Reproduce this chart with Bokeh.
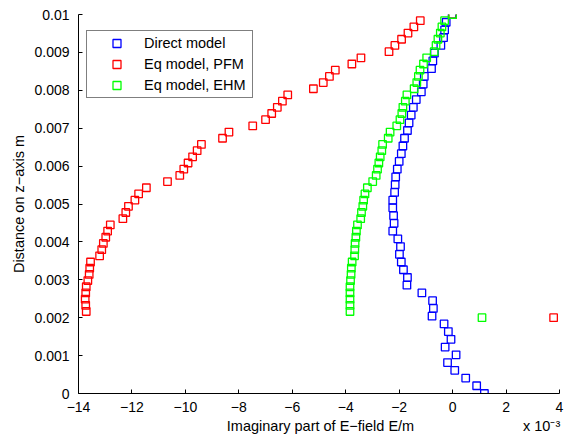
import numpy as np
from bokeh.plotting import figure
from bokeh.models import FixedTicker, CustomJSTickFormatter
from bokeh.embed import file_html
from bokeh.resources import INLINE

# ---- data ----
# x values are in units of 1e-3 E/m (axis shows "x 10^-3")
y_direct = list(np.linspace(0.0, 0.01, 50))
x_direct = [1.19, 0.90, 0.49, 0.08, -0.19, 0.13, -0.28, -0.06, -0.16, -0.32,
            -0.77, -0.72, -0.75, -1.15, -1.71, -1.69, -1.84, -1.92, -1.99, -1.95,
            -2.05, -2.24, -2.19, -2.21, -2.24, -2.24, -2.17, -2.15, -2.13, -2.07,
            -2.00, -1.92, -1.86, -1.80, -1.69, -1.63, -1.55, -1.47, -1.36, -1.17,
            -1.10, -1.06, -0.79, -0.74, -0.68, -0.44, -0.34, -0.30, -0.24, -0.02]

y_eq = list(np.linspace(0.002, 0.01, 50))
x_pfm = [3.78, -13.71, -13.73, -13.75, -13.73, -13.71, -13.65, -13.60, -13.58, -13.55,
         -13.21, -13.13, -13.07, -12.98, -12.91, -12.81, -12.34, -12.23, -12.13, -11.89,
         -11.75, -11.46, -10.67, -10.21, -10.06, -9.90, -9.73, -9.56, -9.40, -8.61,
         -8.37, -7.48, -7.00, -6.77, -6.56, -6.37, -6.17, -5.21, -4.84, -4.61,
         -4.39, -3.77, -3.43, -2.38, -2.16, -1.91, -1.67, -1.45, -1.21, 0.0]
x_ehm = [1.10, -3.84, -3.84, -3.84, -3.84, -3.84, -3.82, -3.80, -3.79, -3.76,
         -3.67, -3.66, -3.65, -3.62, -3.60, -3.56, -3.44, -3.41, -3.36, -3.33,
         -3.28, -3.19, -2.99, -2.86, -2.81, -2.76, -2.71, -2.65, -2.62, -2.41,
         -2.34, -2.09, -1.97, -1.90, -1.86, -1.77, -1.71, -1.44, -1.34, -1.28,
         -1.22, -1.09, -0.97, -0.69, -0.62, -0.55, -0.46, -0.40, -0.30, 0.0]

x_ticks = [-14, -12, -10, -8, -6, -4, -2, 0, 2, 4]
y_ticks = [0, 0.001, 0.002, 0.003, 0.004, 0.005, 0.006, 0.007, 0.008, 0.009, 0.01]

x_label = "Imaginary part of E\u2212field E/m"
x_multiplier = "x 10\u207b\u00b3"
y_label = "Distance on z\u2212axis m"

FONT = "Liberation Sans"
NBSP = "\u00a0"

p = figure(width=566, height=438, output_backend="svg", toolbar_location=None,
           x_range=(-14, 4), y_range=(0, 0.01),
           min_border_left=78, min_border_right=7, min_border_top=14, min_border_bottom=45)
p.outline_line_color = None
p.grid.visible = False
p.background_fill_color = "white"
p.border_fill_color = "white"

p.scatter(x_direct, y_direct, marker="square", size=7.5, fill_color=None,
          line_color="#0000ff", line_width=1.3, legend_label="Direct model")
p.scatter(x_pfm, y_eq, marker="square", size=7.5, fill_color=None,
          line_color="#ff0000", line_width=1.3, legend_label="Eq model, PFM")
p.scatter(x_ehm, y_eq, marker="square", size=7.5, fill_color=None,
          line_color="#00ff00", line_width=1.3, legend_label="Eq model, EHM")

for ax in (p.xaxis[0], p.yaxis[0]):
    ax.major_tick_in = 4
    ax.major_tick_out = 0
    ax.minor_tick_line_color = None
    ax.axis_line_color = "black"
    ax.major_tick_line_color = "black"
    ax.major_label_text_font = FONT
    ax.major_label_text_font_size = "14px"
    ax.major_label_text_color = "black"
    ax.axis_label_text_font = FONT
    ax.axis_label_text_font_size = "14.5px"
    ax.axis_label_text_font_style = "normal"
    ax.axis_label_text_color = "black"

p.xaxis[0].ticker = FixedTicker(ticks=x_ticks)
p.xaxis[0].formatter = CustomJSTickFormatter(
    code="return tick < 0 ? '\\u2212' + Math.abs(tick) : String(tick);")
# the axis title and the "x 10^-3" multiplier share the line under the axis
p.xaxis[0].axis_label = NBSP * 37 + x_label + NBSP * 27 + x_multiplier
p.xaxis[0].major_label_standoff = 8
p.xaxis[0].axis_label_standoff = 3

p.yaxis[0].ticker = FixedTicker(ticks=y_ticks)
p.yaxis[0].formatter = CustomJSTickFormatter(
    code="if (Math.abs(tick) < 1e-12) return '0'; return tick.toFixed(3).replace(/0+$/, '').replace(/\\.$/, '');")
p.yaxis[0].axis_label = y_label
p.yaxis[0].major_label_standoff = 9
p.yaxis[0].axis_label_standoff = 4

lg = p.legend[0]
lg.location = (8, 295)
lg.label_text_font = FONT
lg.label_text_font_size = "14.5px"
lg.label_text_color = "black"
lg.glyph_width = 55
lg.glyph_height = 20
lg.label_height = 20
lg.label_width = 106
lg.label_standoff = 0
lg.padding = 2
lg.spacing = 1
lg.margin = 0
lg.border_line_color = "black"
lg.border_line_width = 1
lg.background_fill_color = "white"
lg.background_fill_alpha = 1.0

open("out.html", "w").write(file_html(p, INLINE))
